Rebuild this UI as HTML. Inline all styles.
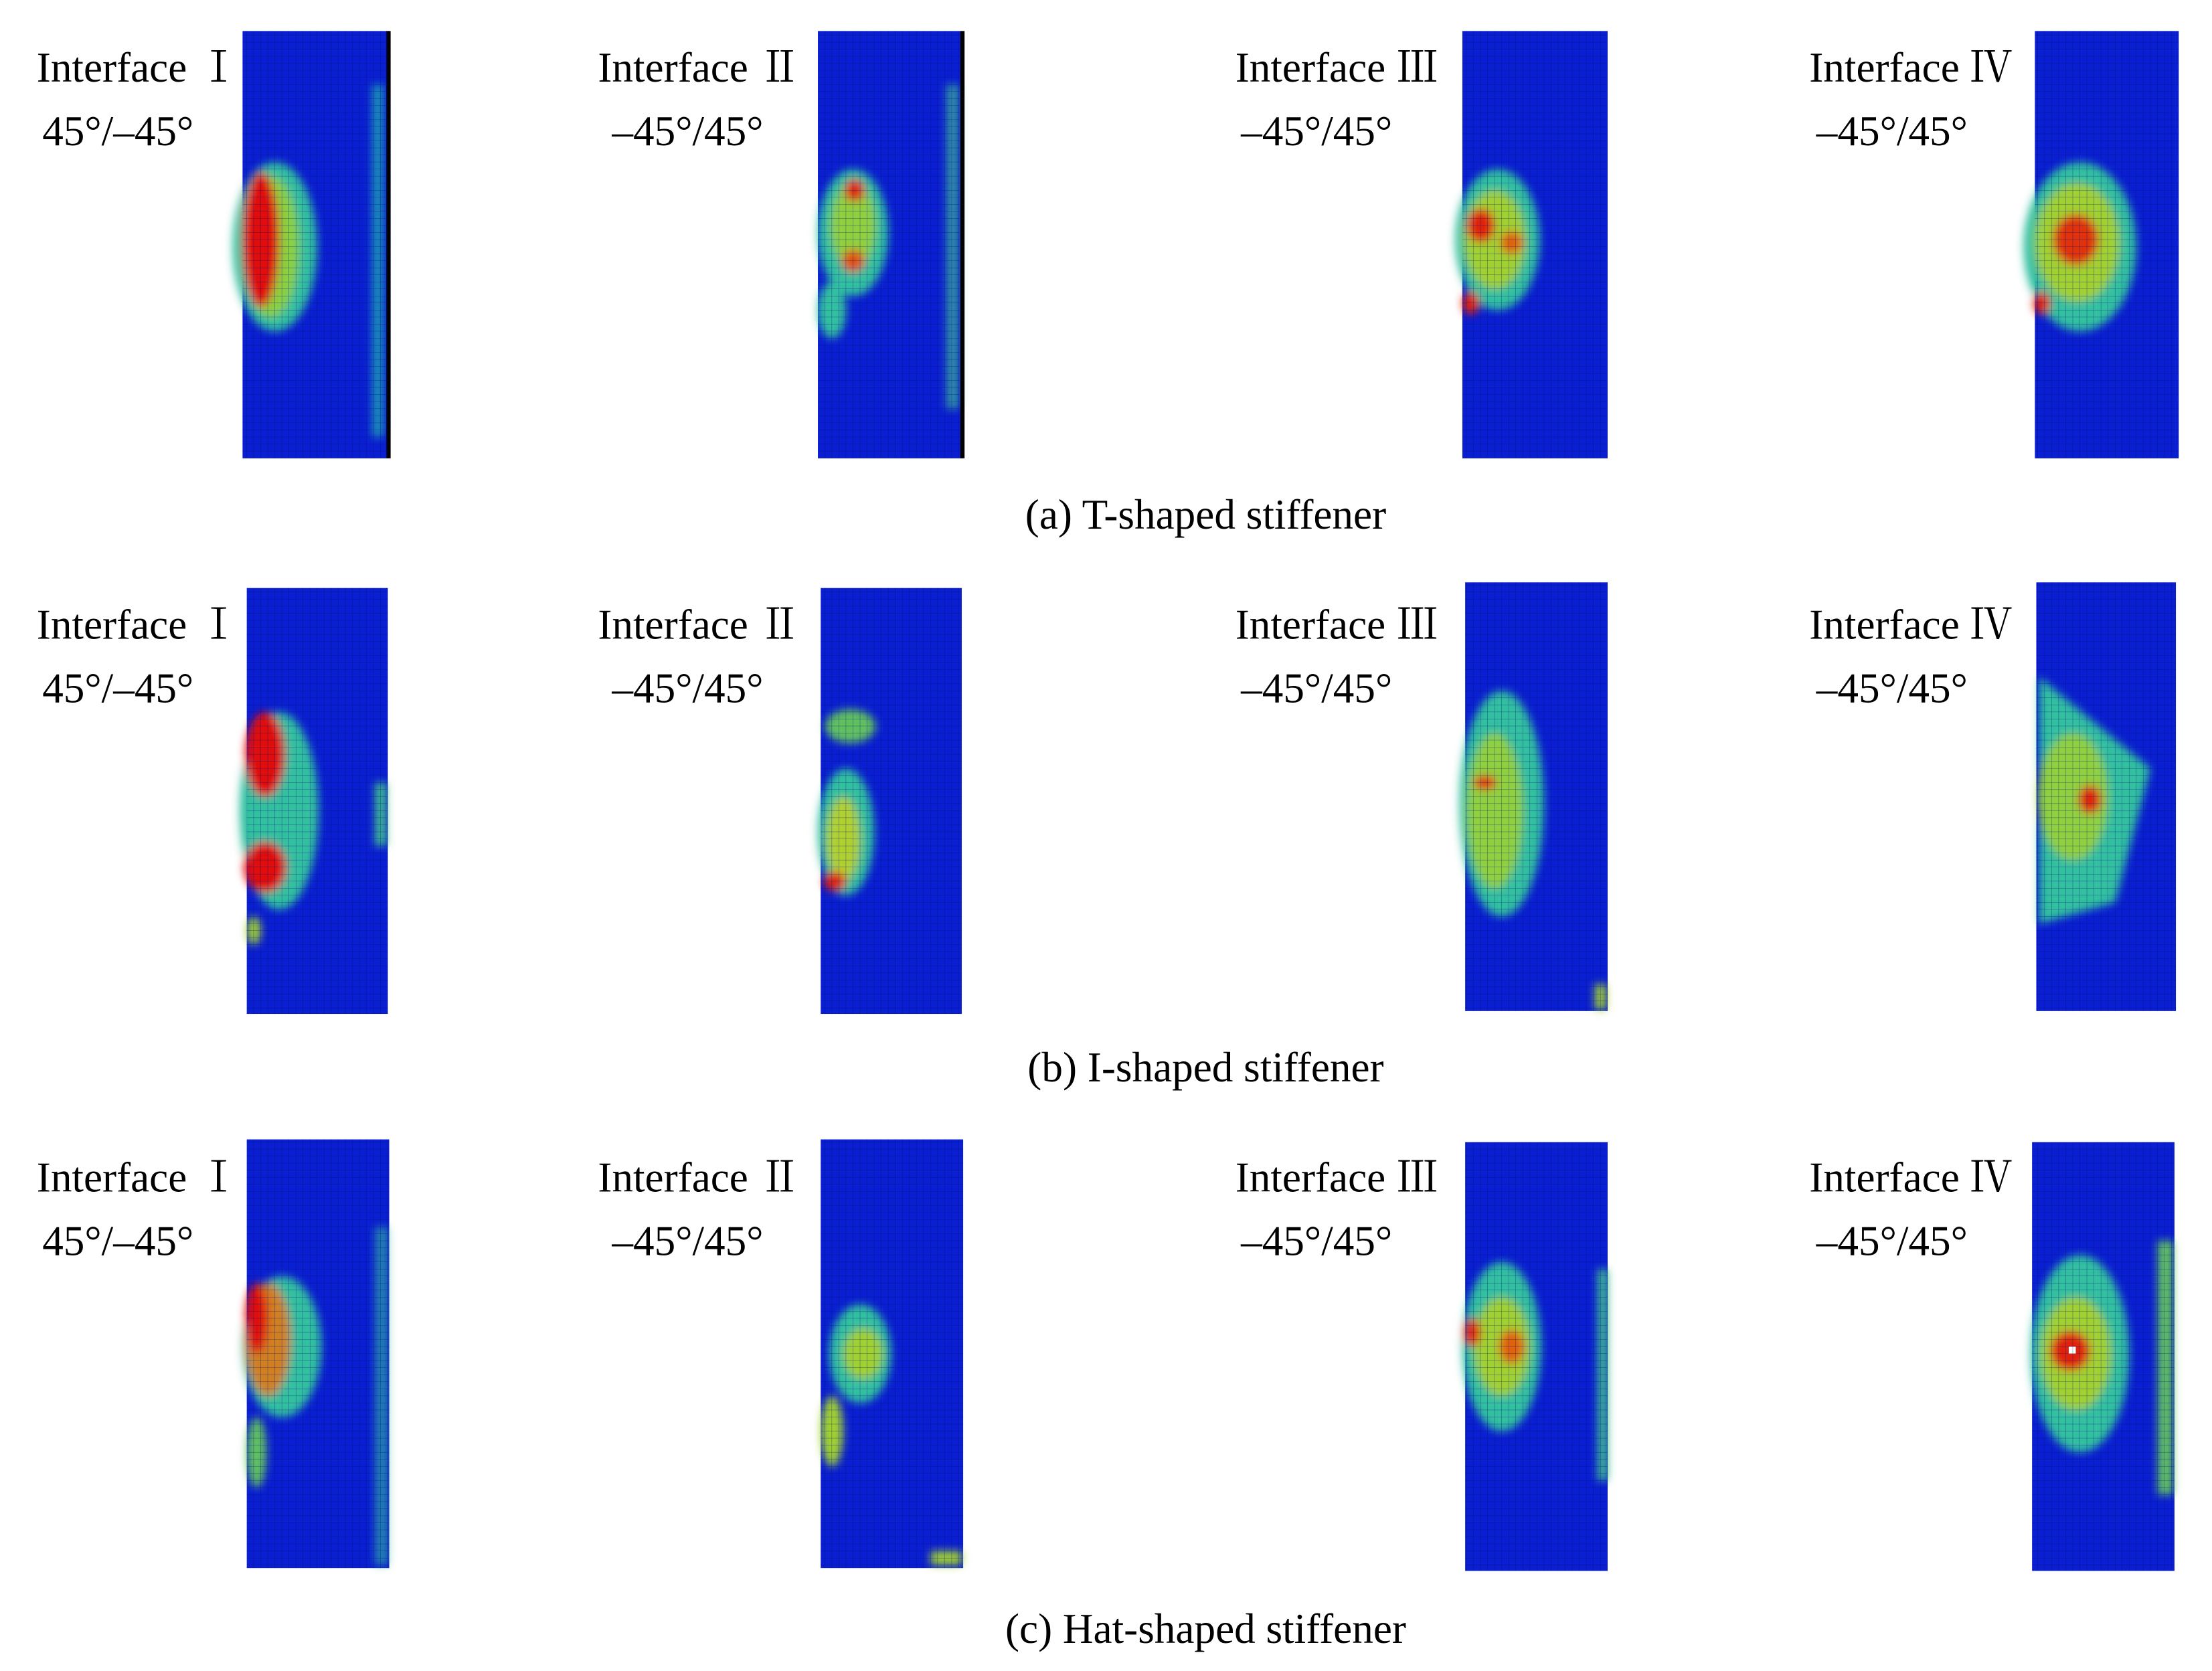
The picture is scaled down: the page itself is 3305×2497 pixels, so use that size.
<!DOCTYPE html>
<html><head><meta charset="utf-8"><style>
html,body{margin:0;padding:0;background:#fff}
svg{display:block}
text{font-family:"Liberation Serif","Noto Serif CJK SC",serif;fill:#000}
</style></head><body>
<svg width="3305" height="2497" viewBox="0 0 1568.6 1185" preserveAspectRatio="none" xmlns="http://www.w3.org/2000/svg">
<defs>
<pattern id="mesh" width="5" height="5" patternUnits="userSpaceOnUse">
<path d="M5 0V5M0 5H5" stroke="#001070" stroke-width="0.5" fill="none" opacity="0.6"/>
</pattern>
<filter id="b" x="-50%" y="-50%" width="200%" height="200%"><feGaussianBlur stdDeviation="3"/></filter>
</defs>
<g font-size="30">
<g>
<text x="26" y="58">Interface Ⅰ</text><text x="30" y="103">45°/–45°</text>
<text x="424" y="58">Interface Ⅱ</text><text x="434" y="103">–45°/45°</text>
<text x="876" y="58">Interface Ⅲ</text><text x="880" y="103">–45°/45°</text>
<text x="1283" y="58">Interface Ⅳ</text><text x="1288" y="103">–45°/45°</text>
</g>
<g transform="translate(0,395)">
<text x="26" y="58">Interface Ⅰ</text><text x="30" y="103">45°/–45°</text>
<text x="424" y="58">Interface Ⅱ</text><text x="434" y="103">–45°/45°</text>
<text x="876" y="58">Interface Ⅲ</text><text x="880" y="103">–45°/45°</text>
<text x="1283" y="58">Interface Ⅳ</text><text x="1288" y="103">–45°/45°</text>
</g>
<g transform="translate(0,787)">
<text x="26" y="58">Interface Ⅰ</text><text x="30" y="103">45°/–45°</text>
<text x="424" y="58">Interface Ⅱ</text><text x="434" y="103">–45°/45°</text>
<text x="876" y="58">Interface Ⅲ</text><text x="880" y="103">–45°/45°</text>
<text x="1283" y="58">Interface Ⅳ</text><text x="1288" y="103">–45°/45°</text>
</g>
<text x="855" y="375" text-anchor="middle">(a) T-shaped stiffener</text>
<text x="855" y="767" text-anchor="middle">(b) I-shaped stiffener</text>
<text x="855" y="1165" text-anchor="middle">(c) Hat-shaped stiffener</text>
</g>

<!-- Row a -->
<rect x="172" y="22" width="104" height="303" fill="#0a1ed2"/>
<g filter="url(#b)">
<ellipse cx="195" cy="175" rx="30" ry="60" fill="#30c0a0"/>
<ellipse cx="192" cy="175" rx="20" ry="50" fill="#8ad040"/>
<ellipse cx="185" cy="170" rx="13" ry="48" fill="#e01010"/>
<rect x="264" y="60" width="8" height="250" fill="#20b0b0" opacity="0.8"/>
</g>
<rect x="274" y="22" width="3" height="303" fill="#000"/>
<rect x="172" y="22" width="104" height="303" fill="url(#mesh)"/>

<rect x="580" y="22" width="103" height="303" fill="#0a1ed2"/>
<g filter="url(#b)">
<ellipse cx="605" cy="165" rx="25" ry="45" fill="#30c0a0"/>
<ellipse cx="605" cy="160" rx="16" ry="30" fill="#90d040"/>
<ellipse cx="606" cy="135" rx="7" ry="8" fill="#e02010"/>
<ellipse cx="605" cy="185" rx="8" ry="8" fill="#e05010"/>
<ellipse cx="590" cy="220" rx="10" ry="20" fill="#30c0a0"/>
<rect x="671" y="60" width="9" height="230" fill="#40c090" opacity="0.7"/>
</g>
<rect x="681" y="22" width="3" height="303" fill="#000"/>
<rect x="580" y="22" width="103" height="303" fill="url(#mesh)"/>

<rect x="1037" y="22" width="103" height="303" fill="#0a1ed2"/>
<g filter="url(#b)">
<ellipse cx="1062" cy="170" rx="30" ry="50" fill="#30c0a0"/>
<ellipse cx="1060" cy="170" rx="22" ry="35" fill="#a0d030"/>
<ellipse cx="1050" cy="160" rx="10" ry="12" fill="#e02010"/>
<ellipse cx="1072" cy="172" rx="8" ry="8" fill="#e06010"/>
<ellipse cx="1043" cy="215" rx="6" ry="8" fill="#e02010"/>
</g>
<rect x="1037" y="22" width="103" height="303" fill="url(#mesh)"/>

<rect x="1443" y="22" width="102" height="303" fill="#0a1ed2"/>
<g filter="url(#b)">
<ellipse cx="1475" cy="175" rx="40" ry="60" fill="#30c0a0"/>
<ellipse cx="1473" cy="172" rx="30" ry="42" fill="#a0d030"/>
<ellipse cx="1472" cy="170" rx="16" ry="18" fill="#e03010"/>
<ellipse cx="1448" cy="215" rx="6" ry="8" fill="#e02010"/>
</g>
<rect x="1443" y="22" width="102" height="303" fill="url(#mesh)"/>

<!-- Row b -->
<rect x="175" y="417" width="100" height="302" fill="#0a1ed2"/>
<g filter="url(#b)">
<ellipse cx="198" cy="575" rx="28" ry="70" fill="#30c0a0"/>
<ellipse cx="188" cy="535" rx="14" ry="30" fill="#e01010"/>
<ellipse cx="188" cy="615" rx="15" ry="18" fill="#e01010"/>
<ellipse cx="180" cy="660" rx="5" ry="10" fill="#a0d030"/>
<rect x="266" y="555" width="8" height="45" fill="#40c090"/>
</g>
<rect x="175" y="417" width="100" height="302" fill="url(#mesh)"/>

<rect x="582" y="417" width="100" height="302" fill="#0a1ed2"/>
<g filter="url(#b)">
<ellipse cx="603" cy="515" rx="18" ry="12" fill="#60c060"/>
<ellipse cx="600" cy="590" rx="20" ry="45" fill="#30c0a0"/>
<ellipse cx="598" cy="595" rx="12" ry="30" fill="#b0d030"/>
<ellipse cx="592" cy="625" rx="8" ry="7" fill="#e02010"/>
</g>
<rect x="582" y="417" width="100" height="302" fill="url(#mesh)"/>

<rect x="1039" y="413" width="101" height="304" fill="#0a1ed2"/>
<g filter="url(#b)">
<ellipse cx="1065" cy="570" rx="30" ry="80" fill="#30c0a0"/>
<ellipse cx="1060" cy="575" rx="20" ry="55" fill="#90d040"/>
<ellipse cx="1053" cy="555" rx="8" ry="5" fill="#e02010"/>
<rect x="1131" y="698" width="8" height="18" fill="#a0d030"/>
</g>
<rect x="1039" y="413" width="101" height="304" fill="url(#mesh)"/>

<rect x="1444" y="413" width="99" height="304" fill="#0a1ed2"/>
<g filter="url(#b)">
<polygon points="1446,480 1525,545 1500,640 1446,655" fill="#30c0a0"/>
<ellipse cx="1470" cy="565" rx="25" ry="45" fill="#90d040"/>
<ellipse cx="1482" cy="567" rx="8" ry="10" fill="#e02010"/>
</g>
<rect x="1444" y="413" width="99" height="304" fill="url(#mesh)"/>

<!-- Row c -->
<rect x="175" y="808" width="101" height="304" fill="#0a1ed2"/>
<g filter="url(#b)">
<ellipse cx="200" cy="955" rx="28" ry="50" fill="#30c0a0"/>
<ellipse cx="190" cy="950" rx="16" ry="40" fill="#d08020"/>
<ellipse cx="182" cy="935" rx="8" ry="25" fill="#e01010"/>
<ellipse cx="182" cy="1030" rx="7" ry="25" fill="#60c060"/>
<rect x="266" y="870" width="9" height="240" fill="#30b0a0" opacity="0.7"/>
</g>
<rect x="175" y="808" width="101" height="304" fill="url(#mesh)"/>

<rect x="582" y="808" width="101" height="304" fill="#0a1ed2"/>
<g filter="url(#b)">
<ellipse cx="610" cy="960" rx="22" ry="35" fill="#30c0a0"/>
<ellipse cx="612" cy="960" rx="14" ry="18" fill="#a0d030"/>
<ellipse cx="590" cy="1015" rx="8" ry="25" fill="#a0d030"/>
<rect x="660" y="1100" width="22" height="10" fill="#a0d030"/>
</g>
<rect x="582" y="808" width="101" height="304" fill="url(#mesh)"/>

<rect x="1039" y="810" width="101" height="304" fill="#0a1ed2"/>
<g filter="url(#b)">
<ellipse cx="1065" cy="955" rx="28" ry="60" fill="#30c0a0"/>
<ellipse cx="1065" cy="955" rx="20" ry="35" fill="#a0d030"/>
<ellipse cx="1072" cy="955" rx="9" ry="12" fill="#e06010"/>
<ellipse cx="1044" cy="945" rx="6" ry="10" fill="#e02010"/>
<rect x="1133" y="900" width="7" height="150" fill="#40c090"/>
</g>
<rect x="1039" y="810" width="101" height="304" fill="url(#mesh)"/>

<rect x="1441" y="810" width="101" height="304" fill="#0a1ed2"/>
<g filter="url(#b)">
<ellipse cx="1475" cy="960" rx="35" ry="70" fill="#30c0a0"/>
<ellipse cx="1472" cy="960" rx="25" ry="40" fill="#a0d030"/>
<ellipse cx="1468" cy="958" rx="14" ry="14" fill="#e02010"/>
<rect x="1530" y="880" width="11" height="180" fill="#60c060"/>
</g>
<rect x="1467" y="955" width="5" height="5" fill="#fff"/>
<rect x="1441" y="810" width="101" height="304" fill="url(#mesh)"/>
</svg>
</body></html>
